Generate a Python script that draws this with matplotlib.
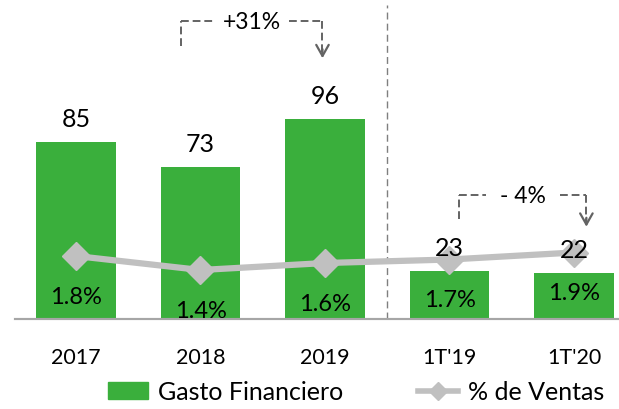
import matplotlib.pyplot as plt
from matplotlib.lines import Line2D
from matplotlib.patches import Patch

# datos
periodos = ["2017", "2018", "2019", "1T'19", "1T'20"]
gasto_financiero = [85, 73, 96, 23, 22]
pct_ventas = [1.8, 1.4, 1.6, 1.7, 1.9]

verde = '#3AAF3C'
gris = '#C0C0C0'
gris_osc = '#636363'

plt.rcParams['font.family'] = ['Lato', 'DejaVu Sans']

fig = plt.figure(figsize=(6.19, 4.10), dpi=100)
ax = fig.add_axes([15 / 619, 90 / 410, 605 / 619, 310 / 410])
ax2 = ax.twinx()

x = list(range(len(periodos)))
ax.bar(x, gasto_financiero, width=0.64, color=verde, zorder=2)
ax.set_xlim(-0.49, 4.37)
ax.set_ylim(0, 149)
ax2.set_ylim(0, 8.86)

ax2.plot(x, pct_ventas, color=gris, lw=4.5, marker='D', markersize=14,
         markerfacecolor=gris, markeredgecolor=gris, zorder=3)

# valores sobre las barras (encima de la línea)
for xi, v in zip(x, gasto_financiero):
    ax2.annotate(str(v), (xi, v), xycoords=ax.transData, xytext=(0, 12),
                 textcoords='offset pixels', ha='center', va='bottom',
                 fontsize=18, zorder=5)

# porcentajes dentro de las barras
for xi, p in zip(x, pct_ventas):
    ax2.annotate(f"{p:.1f}%", (xi, p), xytext=(0, -40), textcoords='offset pixels',
                 ha='center', va='center', fontsize=17, zorder=5)

ax.set_xticks(x)
ax.set_xticklabels(periodos, fontsize=15.5)
ax.tick_params(axis='x', length=0, pad=20)
ax.set_yticks([])
ax2.set_yticks([])
for a in (ax, ax2):
    for s in ['top', 'right', 'left']:
        a.spines[s].set_visible(False)
    a.spines['bottom'].set_color('#A6A6A6')
    a.spines['bottom'].set_linewidth(1.5)

# separador entre años y trimestres
ax.plot([2.5, 2.5], [0, 151], ls=(0, (5, 3)), color='#7F7F7F', lw=1, clip_on=False, zorder=1)


def corchete(ax, x0, x1, y_top, y_izq, y_punta, texto):
    kw = dict(color=gris_osc, ls=(0, (4, 2)), lw=1.4, clip_on=False)
    xm = (x0 + x1) / 2
    ax.plot([x0, x0], [y_izq, y_top], **kw)
    ax.plot([x0, xm - 0.3], [y_top, y_top], **kw)
    ax.plot([xm + 0.3, x1], [y_top, y_top], **kw)
    ax.plot([x1, x1], [y_top, y_punta + 4], **kw)
    ax.annotate('', xy=(x1, y_punta), xytext=(x1, y_punta + 7),
                arrowprops=dict(arrowstyle='->,head_length=0.8,head_width=0.45',
                                color=gris_osc, lw=1.6))
    ax.text(xm, y_top, texto, ha='center', va='center', fontsize=16.5)


corchete(ax, 0.84, 1.98, 143, 131, 124, '+31%')
corchete(ax, 3.08, 4.10, 59.5, 48, 43, '- 4%')

# leyenda
handles = [Patch(color=verde, label='Gasto Financiero'),
           Line2D([], [], color=gris, lw=4, marker='D', markersize=9, label='% de Ventas')]
fig.legend(handles=handles, loc='center', bbox_to_anchor=(0.575, 0.042), ncol=2,
           frameon=False, fontsize=18, handlelength=1.6, handleheight=0.65,
           columnspacing=3.0, handletextpad=0.4)

fig.savefig('out.png', dpi=100)
